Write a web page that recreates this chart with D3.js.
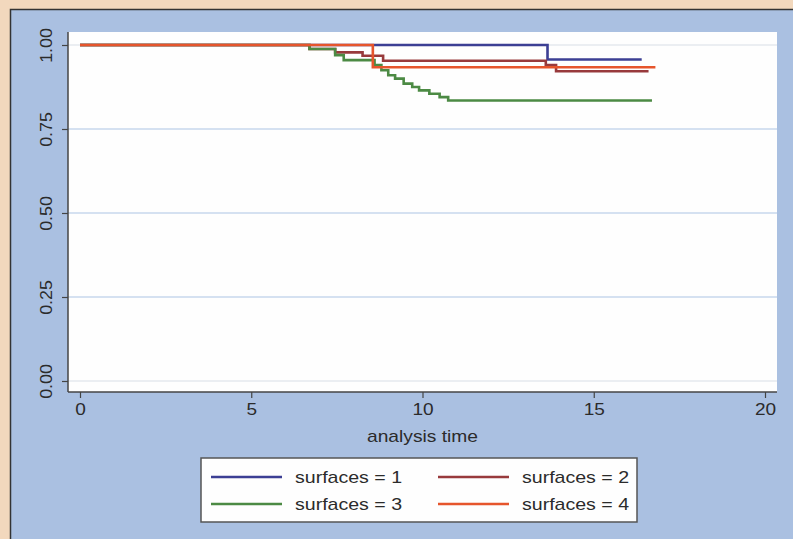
<!DOCTYPE html>
<html>
<head>
<meta charset="utf-8">
<script src="https://cdn.jsdelivr.net/npm/d3@7"></script>
<style>
  html, body { margin: 0; padding: 0; background: #f2d8bd; }
  svg { display: block; }
  text { font-family: "Liberation Sans", Arial, Helvetica, sans-serif; fill: #2b2b2b; }
</style>
</head>
<body>
<svg id="chart" width="793" height="539"></svg>
<script>
// ---- data ----
const xTicks = [0, 5, 10, 15, 20];
const yTicks = [0, 0.25, 0.5, 0.75, 1];
const yTickLabels = ["0.00", "0.25", "0.50", "0.75", "1.00"];
const xTitle = "analysis time";
const seriesNames = ["surfaces = 1", "surfaces = 2", "surfaces = 3", "surfaces = 4"];
const seriesColors = ["#3c3f94", "#983a3c", "#4c8a44", "#e6552c"];

const s1Time = [0, 13.65, 16.4];
const s1Surv = [1, 0.957, 0.957];
const s2Time = [0, 6.7, 7.45, 8.25, 8.85, 13.6, 13.9, 16.6];
const s2Surv = [1, 0.988, 0.978, 0.968, 0.953, 0.94, 0.922, 0.922];
const s3Time = [0, 6.7, 7.45, 7.7, 8.6, 8.8, 9.0, 9.2, 9.45, 9.7, 9.9, 10.2, 10.5, 10.75, 16.7];
const s3Surv = [1, 0.988, 0.97, 0.955, 0.94, 0.925, 0.91, 0.90, 0.885, 0.875, 0.865, 0.855, 0.845, 0.835, 0.835];
const s4Time = [0, 8.55, 16.8];
const s4Surv = [1, 0.934, 0.934];

const series = [
  { name: seriesNames[0], color: seriesColors[0], t: s1Time, s: s1Surv },
  { name: seriesNames[1], color: seriesColors[1], t: s2Time, s: s2Surv },
  { name: seriesNames[2], color: seriesColors[2], t: s3Time, s: s3Surv },
  { name: seriesNames[3], color: seriesColors[3], t: s4Time, s: s4Surv }
];

// ---- layout ----
const svg = d3.select("#chart");
const W = 793, H = 539;

// stretch text horizontally a little, like the reference rendering
function stretch(sel, k) {
  sel.each(function () {
    const len = this.getComputedTextLength();
    d3.select(this).attr("textLength", len * k).attr("lengthAdjust", "spacingAndGlyphs");
  });
}

// outer blue panel
svg.append("rect").attr("x", 10).attr("y", 9).attr("width", W - 10).attr("height", H - 9)
  .attr("fill", "#aac0e1");
svg.append("path").attr("d", `M10.5,${H} L10.5,9.5 L${W},9.5`)
  .attr("fill", "none").attr("stroke", "#333").attr("stroke-width", 1.5);

const plotL = 68, plotR = 777, plotT = 32, plotB = 392;

const x = d3.scaleLinear().domain([0, 20]).range([80, 765]);
const y = d3.scaleLinear().domain([0, 1]).range([381, 45]);

// plot region
svg.append("rect").attr("x", plotL).attr("y", plotT)
  .attr("width", plotR - plotL).attr("height", plotB - plotT)
  .attr("fill", "#fefefe");

// gridlines
svg.append("g").selectAll("line").data(yTicks).join("line")
  .attr("x1", plotL).attr("x2", plotR)
  .attr("y1", d => y(d)).attr("y2", d => y(d))
  .attr("stroke", d => (d === 0 || d === 1) ? "#e4e8ee" : "#c7d7ec")
  .attr("stroke-width", 1.5);

// axes
const yAxis = d3.axisLeft(y).tickValues(yTicks)
  .tickFormat((d, i) => yTickLabels[i]).tickSize(6).tickSizeOuter(0);
const gy = svg.append("g").attr("transform", `translate(${plotL},0)`).call(yAxis);
gy.select(".domain").attr("d", `M0,${plotT}V${plotB}`).attr("stroke", "#444").attr("stroke-width", 1.5);
gy.selectAll(".tick line").attr("stroke", "#444").attr("stroke-width", 1.2);
gy.selectAll(".tick text")
  .attr("font-size", 17).attr("fill", "#2b2b2b")
  .attr("text-anchor", "middle")
  .attr("transform", "translate(-16,0) rotate(-90)")
  .attr("x", 0).attr("y", 0).attr("dy", "0");
stretch(gy.selectAll(".tick text"), 1.05);

const xAxis = d3.axisBottom(x).tickValues(xTicks).tickSize(6).tickSizeOuter(0);
const gx = svg.append("g").attr("transform", `translate(0,${plotB})`).call(xAxis);
gx.select(".domain").attr("d", `M${plotL},0H${plotR}`).attr("stroke", "#444").attr("stroke-width", 1.5);
gx.selectAll(".tick line").attr("stroke", "#444").attr("stroke-width", 1.2);
gx.selectAll(".tick text").attr("font-size", 17).attr("fill", "#2b2b2b").attr("y", 11).attr("dy", "0.71em");
stretch(gx.selectAll(".tick text"), 1.12);

const xt = svg.append("text").attr("x", x(10)).attr("y", 442)
  .attr("text-anchor", "middle").attr("font-size", 17).text(xTitle);
stretch(xt, 1.13);

// survival step curves
const line = d3.line()
  .x(d => x(d[0])).y(d => y(d[1]))
  .curve(d3.curveStepAfter);

svg.append("g").selectAll("path").data(series).join("path")
  .attr("d", d => line(d.t.map((t, i) => [t, d.s[i]])))
  .attr("fill", "none")
  .attr("stroke", d => d.color)
  .attr("stroke-width", 2.6);

// legend
const lg = svg.append("g");
lg.append("rect").attr("x", 201).attr("y", 458).attr("width", 436).attr("height", 64)
  .attr("fill", "#fefefe").attr("stroke", "#555").attr("stroke-width", 1.5);
const cols = [211, 438];
const rows = [477, 504];
series.forEach((s, i) => {
  const cx = cols[i % 2], cy = rows[Math.floor(i / 2)];
  lg.append("line").attr("x1", cx).attr("x2", cx + 71).attr("y1", cy).attr("y2", cy)
    .attr("stroke", s.color).attr("stroke-width", 2.6);
  const t = lg.append("text").attr("x", cx + 84).attr("y", cy).attr("dy", "0.35em")
    .attr("font-size", 17).text(s.name);
  stretch(t, 1.15);
});
</script>
</body>
</html>
